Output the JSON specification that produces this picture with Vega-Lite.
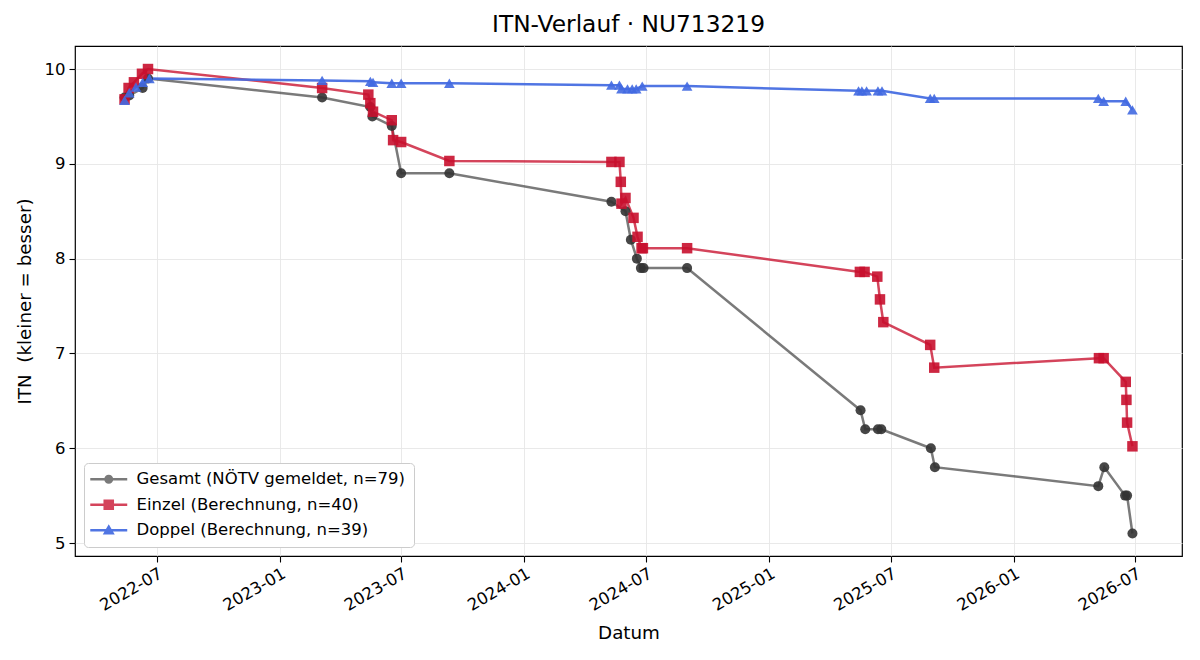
{
  "$schema": "https://vega.github.io/schema/vega-lite/v6.json",
  "autosize": {"type": "none"},
  "width": 1107,
  "height": 510,
  "padding": {"left": 75, "top": 46, "right": 18, "bottom": 104},
  "background": "white",
  "config": {
    "font": "DejaVu Sans",
    "view": {"stroke": "black", "strokeWidth": 1.2},
    "axis": {
      "domain": false,
      "gridColor": "#e6e6e6",
      "gridWidth": 0.9,
      "tickColor": "black",
      "tickSize": 6,
      "tickWidth": 1.1,
      "labelColor": "black",
      "labelFontSize": 16.5,
      "titleFontSize": 18.3,
      "titleFontWeight": "normal",
      "titleColor": "black"
    }
  },
  "title": {
    "text": "ITN-Verlauf · NU713219",
    "fontSize": 23.3,
    "fontWeight": "normal",
    "anchor": "middle",
    "offset": 9,
    "color": "black"
  },
  "datasets": {
    "itn": [
      {"series": "Gesamt (NÖTV gemeldet, n=79)", "date": "2022-05-14", "itn": 9.70},
      {"series": "Gesamt (NÖTV gemeldet, n=79)", "date": "2022-05-21", "itn": 9.72},
      {"series": "Gesamt (NÖTV gemeldet, n=79)", "date": "2022-06-10", "itn": 9.80},
      {"series": "Gesamt (NÖTV gemeldet, n=79)", "date": "2022-06-18", "itn": 9.90},
      {"series": "Gesamt (NÖTV gemeldet, n=79)", "date": "2023-03-05", "itn": 9.70},
      {"series": "Gesamt (NÖTV gemeldet, n=79)", "date": "2023-05-16", "itn": 9.60},
      {"series": "Gesamt (NÖTV gemeldet, n=79)", "date": "2023-05-19", "itn": 9.50},
      {"series": "Gesamt (NÖTV gemeldet, n=79)", "date": "2023-06-17", "itn": 9.40},
      {"series": "Gesamt (NÖTV gemeldet, n=79)", "date": "2023-07-01", "itn": 8.90},
      {"series": "Gesamt (NÖTV gemeldet, n=79)", "date": "2023-09-11", "itn": 8.90},
      {"series": "Gesamt (NÖTV gemeldet, n=79)", "date": "2024-05-10", "itn": 8.60},
      {"series": "Gesamt (NÖTV gemeldet, n=79)", "date": "2024-05-31", "itn": 8.50},
      {"series": "Gesamt (NÖTV gemeldet, n=79)", "date": "2024-06-08", "itn": 8.20},
      {"series": "Gesamt (NÖTV gemeldet, n=79)", "date": "2024-06-17", "itn": 8.00},
      {"series": "Gesamt (NÖTV gemeldet, n=79)", "date": "2024-06-23", "itn": 7.90},
      {"series": "Gesamt (NÖTV gemeldet, n=79)", "date": "2024-06-27", "itn": 7.90},
      {"series": "Gesamt (NÖTV gemeldet, n=79)", "date": "2024-08-31", "itn": 7.90},
      {"series": "Gesamt (NÖTV gemeldet, n=79)", "date": "2025-05-17", "itn": 6.40},
      {"series": "Gesamt (NÖTV gemeldet, n=79)", "date": "2025-05-24", "itn": 6.20},
      {"series": "Gesamt (NÖTV gemeldet, n=79)", "date": "2025-06-12", "itn": 6.20},
      {"series": "Gesamt (NÖTV gemeldet, n=79)", "date": "2025-06-17", "itn": 6.20},
      {"series": "Gesamt (NÖTV gemeldet, n=79)", "date": "2025-08-30", "itn": 6.00},
      {"series": "Gesamt (NÖTV gemeldet, n=79)", "date": "2025-09-05", "itn": 5.80},
      {"series": "Gesamt (NÖTV gemeldet, n=79)", "date": "2026-05-07", "itn": 5.60},
      {"series": "Gesamt (NÖTV gemeldet, n=79)", "date": "2026-05-16", "itn": 5.80},
      {"series": "Gesamt (NÖTV gemeldet, n=79)", "date": "2026-06-16", "itn": 5.50},
      {"series": "Gesamt (NÖTV gemeldet, n=79)", "date": "2026-06-19", "itn": 5.50},
      {"series": "Gesamt (NÖTV gemeldet, n=79)", "date": "2026-06-27", "itn": 5.10},

      {"series": "Einzel (Berechnung, n=40)", "date": "2022-05-14", "itn": 9.68},
      {"series": "Einzel (Berechnung, n=40)", "date": "2022-05-20", "itn": 9.80},
      {"series": "Einzel (Berechnung, n=40)", "date": "2022-05-28", "itn": 9.86},
      {"series": "Einzel (Berechnung, n=40)", "date": "2022-06-09", "itn": 9.95},
      {"series": "Einzel (Berechnung, n=40)", "date": "2022-06-18", "itn": 10.00},
      {"series": "Einzel (Berechnung, n=40)", "date": "2023-03-05", "itn": 9.80},
      {"series": "Einzel (Berechnung, n=40)", "date": "2023-05-13", "itn": 9.73},
      {"series": "Einzel (Berechnung, n=40)", "date": "2023-05-16", "itn": 9.64},
      {"series": "Einzel (Berechnung, n=40)", "date": "2023-05-20", "itn": 9.55},
      {"series": "Einzel (Berechnung, n=40)", "date": "2023-06-17", "itn": 9.46},
      {"series": "Einzel (Berechnung, n=40)", "date": "2023-06-19", "itn": 9.25},
      {"series": "Einzel (Berechnung, n=40)", "date": "2023-07-01", "itn": 9.23},
      {"series": "Einzel (Berechnung, n=40)", "date": "2023-09-11", "itn": 9.03},
      {"series": "Einzel (Berechnung, n=40)", "date": "2024-05-10", "itn": 9.02},
      {"series": "Einzel (Berechnung, n=40)", "date": "2024-05-22", "itn": 9.02},
      {"series": "Einzel (Berechnung, n=40)", "date": "2024-05-24", "itn": 8.81},
      {"series": "Einzel (Berechnung, n=40)", "date": "2024-05-25", "itn": 8.58},
      {"series": "Einzel (Berechnung, n=40)", "date": "2024-05-31", "itn": 8.64},
      {"series": "Einzel (Berechnung, n=40)", "date": "2024-06-12", "itn": 8.43},
      {"series": "Einzel (Berechnung, n=40)", "date": "2024-06-18", "itn": 8.23},
      {"series": "Einzel (Berechnung, n=40)", "date": "2024-06-24", "itn": 8.11},
      {"series": "Einzel (Berechnung, n=40)", "date": "2024-06-26", "itn": 8.11},
      {"series": "Einzel (Berechnung, n=40)", "date": "2024-08-31", "itn": 8.11},
      {"series": "Einzel (Berechnung, n=40)", "date": "2025-05-16", "itn": 7.86},
      {"series": "Einzel (Berechnung, n=40)", "date": "2025-05-23", "itn": 7.86},
      {"series": "Einzel (Berechnung, n=40)", "date": "2025-06-11", "itn": 7.81},
      {"series": "Einzel (Berechnung, n=40)", "date": "2025-06-15", "itn": 7.57},
      {"series": "Einzel (Berechnung, n=40)", "date": "2025-06-20", "itn": 7.33},
      {"series": "Einzel (Berechnung, n=40)", "date": "2025-08-29", "itn": 7.09},
      {"series": "Einzel (Berechnung, n=40)", "date": "2025-09-04", "itn": 6.85},
      {"series": "Einzel (Berechnung, n=40)", "date": "2026-05-08", "itn": 6.95},
      {"series": "Einzel (Berechnung, n=40)", "date": "2026-05-15", "itn": 6.95},
      {"series": "Einzel (Berechnung, n=40)", "date": "2026-06-17", "itn": 6.70},
      {"series": "Einzel (Berechnung, n=40)", "date": "2026-06-18", "itn": 6.51},
      {"series": "Einzel (Berechnung, n=40)", "date": "2026-06-19", "itn": 6.27},
      {"series": "Einzel (Berechnung, n=40)", "date": "2026-06-27", "itn": 6.02},

      {"series": "Doppel (Berechnung, n=39)", "date": "2022-05-14", "itn": 9.67},
      {"series": "Doppel (Berechnung, n=39)", "date": "2022-05-21", "itn": 9.75},
      {"series": "Doppel (Berechnung, n=39)", "date": "2022-05-31", "itn": 9.81},
      {"series": "Doppel (Berechnung, n=39)", "date": "2022-06-10", "itn": 9.86},
      {"series": "Doppel (Berechnung, n=39)", "date": "2022-06-20", "itn": 9.90},
      {"series": "Doppel (Berechnung, n=39)", "date": "2023-03-05", "itn": 9.88},
      {"series": "Doppel (Berechnung, n=39)", "date": "2023-05-16", "itn": 9.87},
      {"series": "Doppel (Berechnung, n=39)", "date": "2023-05-20", "itn": 9.86},
      {"series": "Doppel (Berechnung, n=39)", "date": "2023-06-17", "itn": 9.85},
      {"series": "Doppel (Berechnung, n=39)", "date": "2023-07-01", "itn": 9.85},
      {"series": "Doppel (Berechnung, n=39)", "date": "2023-09-11", "itn": 9.85},
      {"series": "Doppel (Berechnung, n=39)", "date": "2024-05-10", "itn": 9.83},
      {"series": "Doppel (Berechnung, n=39)", "date": "2024-05-22", "itn": 9.83},
      {"series": "Doppel (Berechnung, n=39)", "date": "2024-05-25", "itn": 9.79},
      {"series": "Doppel (Berechnung, n=39)", "date": "2024-06-03", "itn": 9.79},
      {"series": "Doppel (Berechnung, n=39)", "date": "2024-06-10", "itn": 9.79},
      {"series": "Doppel (Berechnung, n=39)", "date": "2024-06-16", "itn": 9.79},
      {"series": "Doppel (Berechnung, n=39)", "date": "2024-06-25", "itn": 9.82},
      {"series": "Doppel (Berechnung, n=39)", "date": "2024-08-31", "itn": 9.82},
      {"series": "Doppel (Berechnung, n=39)", "date": "2025-05-14", "itn": 9.77},
      {"series": "Doppel (Berechnung, n=39)", "date": "2025-05-19", "itn": 9.77},
      {"series": "Doppel (Berechnung, n=39)", "date": "2025-05-26", "itn": 9.77},
      {"series": "Doppel (Berechnung, n=39)", "date": "2025-06-12", "itn": 9.77},
      {"series": "Doppel (Berechnung, n=39)", "date": "2025-06-18", "itn": 9.77},
      {"series": "Doppel (Berechnung, n=39)", "date": "2025-08-29", "itn": 9.69},
      {"series": "Doppel (Berechnung, n=39)", "date": "2025-09-04", "itn": 9.69},
      {"series": "Doppel (Berechnung, n=39)", "date": "2026-05-07", "itn": 9.69},
      {"series": "Doppel (Berechnung, n=39)", "date": "2026-05-15", "itn": 9.66},
      {"series": "Doppel (Berechnung, n=39)", "date": "2026-06-17", "itn": 9.66},
      {"series": "Doppel (Berechnung, n=39)", "date": "2026-06-27", "itn": 9.57}
    ]
  },
  "data": {"name": "itn"},
  "encoding": {
    "x": {
      "field": "date",
      "type": "temporal",
      "scale": {
        "type": "utc",
        "domain": [
          {"year": 2022, "month": 3, "date": 1, "utc": true},
          {"year": 2026, "month": 9, "date": 9, "utc": true}
        ]
      },
      "axis": {
        "title": "Datum",
        "labelExpr": "utcFormat(datum.value, '%Y-%m')",
        "labelAngle": -30,
        "labelAlign": "right",
        "labelBaseline": "top",
        "labelPadding": 3,
        "titlePadding": 11,
        "values": [
          {"year": 2022, "month": 7, "date": 1, "utc": true},
          {"year": 2023, "month": 1, "date": 1, "utc": true},
          {"year": 2023, "month": 7, "date": 1, "utc": true},
          {"year": 2024, "month": 1, "date": 1, "utc": true},
          {"year": 2024, "month": 7, "date": 1, "utc": true},
          {"year": 2025, "month": 1, "date": 1, "utc": true},
          {"year": 2025, "month": 7, "date": 1, "utc": true},
          {"year": 2026, "month": 1, "date": 1, "utc": true},
          {"year": 2026, "month": 7, "date": 1, "utc": true}
        ]
      }
    },
    "y": {
      "field": "itn",
      "type": "quantitative",
      "scale": {"domain": [4.863, 10.243], "zero": false, "nice": false},
      "axis": {
        "title": "ITN \u00a0(kleiner = besser)",
        "values": [5, 6, 7, 8, 9, 10],
        "labelPadding": 4,
        "titlePadding": 10
      }
    },
    "color": {
      "field": "series",
      "type": "nominal",
      "sort": ["Gesamt (NÖTV gemeldet, n=79)", "Einzel (Berechnung, n=40)", "Doppel (Berechnung, n=39)"],
      "scale": {
        "domain": ["Gesamt (NÖTV gemeldet, n=79)", "Einzel (Berechnung, n=40)", "Doppel (Berechnung, n=39)"],
        "range": ["#333333", "#c8102e", "#4169e1"]
      },
      "legend": {
        "title": null,
        "orient": "bottom-left",
        "offset": 9,
        "padding": 8,
        "fillColor": "white",
        "strokeColor": "#cccccc",
        "cornerRadius": 4,
        "labelFontSize": 16.5,
        "labelColor": "black",
        "labelLimit": 500,
        "labelOffset": 19.5,
        "symbolOffset": 8.5,
        "symbolSize": 144,
        "symbolStrokeWidth": 0,
        "rowPadding": 8.5,
        "symbolOpacity": 0.8,
        "encode": {
          "symbols": {
            "update": {
              "fill": {"scale": "color", "field": "value"},
              "shape": {
                "signal": "datum.value === 'Gesamt (NÖTV gemeldet, n=79)' ? 'M-3.08,-0.2H3.08V0.2H-3.08Z M0.75,0A0.75,0.75 0 1,1 -0.75,0A0.75,0.75 0 1,1 0.75,0Z' : (datum.value === 'Einzel (Berechnung, n=40)' ? 'M-3.08,-0.2H3.08V0.2H-3.08Z M-0.88,-0.88H0.88V0.88H-0.88Z' : 'M-3.08,-0.2H3.08V0.2H-3.08Z M0,-1.0L1.0,0.72H-1.0Z')"
              }
            }
          }
        }
      }
    }
  },
  "layer": [
    {
      "mark": {"type": "line", "strokeWidth": 2.5},
      "encoding": {
        "detail": {"field": "series"},
        "opacity": {
          "field": "series",
          "type": "nominal",
          "legend": null,
          "scale": {
            "domain": ["Gesamt (NÖTV gemeldet, n=79)", "Einzel (Berechnung, n=40)", "Doppel (Berechnung, n=39)"],
            "range": [0.65, 0.92, 0.88]
          }
        }
      }
    },
    {
      "transform": [{"filter": "datum.series === 'Gesamt (NÖTV gemeldet, n=79)'"}],
      "mark": {"type": "point", "shape": "circle", "filled": true, "opacity": 0.9, "size": 100, "strokeWidth": 0}
    },
    {
      "transform": [{"filter": "datum.series === 'Einzel (Berechnung, n=40)'"}],
      "mark": {"type": "point", "shape": "square", "filled": true, "opacity": 0.9, "size": 110, "strokeWidth": 0}
    },
    {
      "transform": [{"filter": "datum.series === 'Doppel (Berechnung, n=39)'"}],
      "mark": {"type": "point", "shape": "triangle-up", "filled": true, "opacity": 0.9, "size": 115, "strokeWidth": 0}
    }
  ]
}
